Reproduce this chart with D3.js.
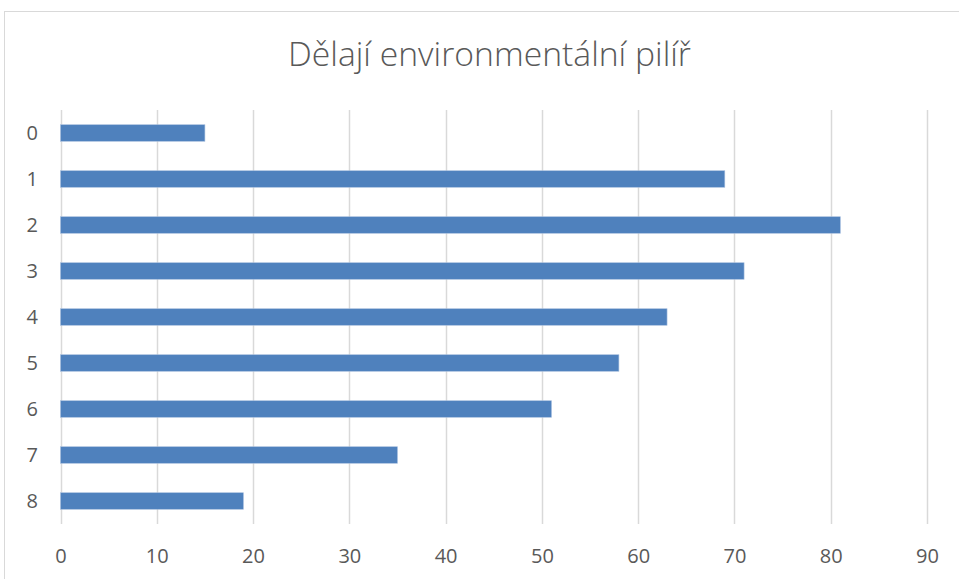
<!DOCTYPE html>
<html>
<head>
<meta charset="utf-8">
<script src="https://cdn.jsdelivr.net/npm/d3@7"></script>
<style>
  html, body { margin: 0; padding: 0; background: #fff; }
  svg { display: block; }
</style>
</head>
<body>
<svg id="chart" width="959" height="579"></svg>
<script>
// Chart content
const title = "Dělají environmentální pilíř";
const categories = ["0", "1", "2", "3", "4", "5", "6", "7", "8"];
const values = [15, 69, 81, 71, 63, 58, 51, 35, 19];
const xTicks = [0, 10, 20, 30, 40, 50, 60, 70, 80, 90];

const W = 959, H = 579;
const plot = { left: 60.5, right: 927, top: 110, bottom: 524 };
const textColor = "#595959";
const gridColor = "#d9d9d9";
const barColor = "#4f81bd";

const svg = d3.select("#chart");

// Chart frame (extends past the right and bottom edges)
svg.append("rect")
  .attr("x", 4.5).attr("y", 11.5)
  .attr("width", W + 20).attr("height", H + 20)
  .attr("fill", "#fff")
  .attr("stroke", gridColor).attr("stroke-width", 1);

const x = d3.scaleLinear().domain([0, 90]).range([plot.left, plot.right]);
const y = d3.scaleBand().domain(categories).range([plot.top, plot.bottom]).paddingInner(0.64).paddingOuter(0.32);

// Vertical gridlines
svg.append("g")
  .selectAll("line")
  .data(xTicks)
  .join("line")
  .attr("x1", d => Math.round(x(d)) + 0.5)
  .attr("x2", d => Math.round(x(d)) + 0.5)
  .attr("y1", plot.top).attr("y2", plot.bottom)
  .attr("stroke", gridColor).attr("stroke-width", 1.5);

// Bars
svg.append("g")
  .selectAll("rect")
  .data(values)
  .join("rect")
  .attr("x", x(0))
  .attr("y", (d, i) => y(categories[i]))
  .attr("width", d => x(d) - x(0))
  .attr("height", y.bandwidth())
  .attr("fill", barColor)
  .attr("stroke", "#a9c0df").attr("stroke-width", 0.6);

// X axis labels
const xAxis = d3.axisBottom(x).tickValues(xTicks).tickSize(0).tickPadding(0);
const gx = svg.append("g").attr("transform", `translate(0, ${plot.bottom})`).call(xAxis);
gx.select(".domain").remove();
gx.selectAll("text")
  .attr("dy", null)
  .attr("y", 39)
  .attr("fill", textColor)
  .style("font-family", "'Open Sans', sans-serif")
  .style("font-size", "20px");

// Y axis labels
const yAxis = d3.axisLeft(y).tickSize(0).tickPadding(0);
const gy = svg.append("g").attr("transform", `translate(38, 0)`).call(yAxis);
gy.select(".domain").remove();
gy.selectAll("text")
  .attr("dy", "0.35em")
  .attr("fill", textColor)
  .style("font-family", "'Open Sans', sans-serif")
  .style("font-size", "20px");

// Title, sized to its span
const t = svg.append("text")
  .attr("x", 489.5).attr("y", 66)
  .attr("text-anchor", "middle")
  .attr("fill", textColor)
  .style("font-family", "'Open Sans', sans-serif")
  .style("font-weight", 300)
  .style("font-size", "30px")
  .text(title);
const tw = t.node().getComputedTextLength();
t.style("font-size", (30 * 403 / tw).toFixed(2) + "px");
</script>
</body>
</html>
